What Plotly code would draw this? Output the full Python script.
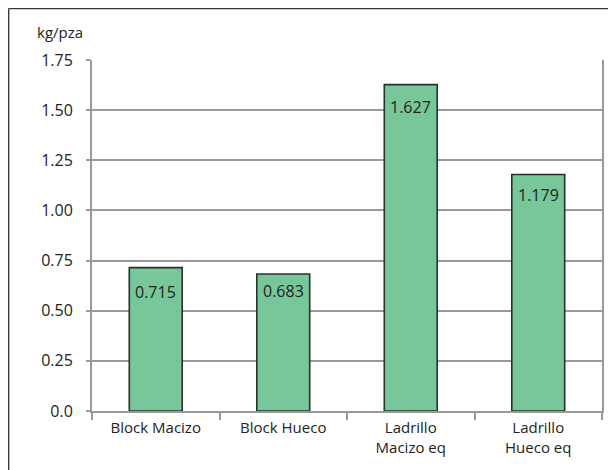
import plotly.graph_objects as go

# data
categories = ["Block Macizo", "Block Hueco", "Ladrillo Macizo eq", "Ladrillo Hueco eq"]
tick_labels = ["Block Macizo", "Block Hueco", "Ladrillo<br>Macizo eq", "Ladrillo<br>Hueco eq"]
values = [0.715, 0.683, 1.627, 1.179]
value_labels = ["0.715", "0.683", "1.627", "1.179"]
y_ticks = [0, 0.25, 0.5, 0.75, 1.0, 1.25, 1.5, 1.75]
y_tick_text = ["0.0", "0.25", "0.50", "0.75", "1.00", "1.25", "1.50", "1.75"]

# the labels in the original were nudged by hand, not all at the same depth
label_drop = [-11, -4, -9, -7]

FONT = "Open Sans"
TEXT = "#232323"
GRID = "#999999"

# page body has an 8px margin, so the figure is sized to the visible part
W, H = 608, 462
ML, MR, MT, MB = 84, 14, 52, 59
PW, PH = W - ML - MR, H - MT - MB

fig = go.Figure()

fig.add_trace(
    go.Bar(
        x=categories,
        y=values,
        marker=dict(color="#77c79a", line=dict(color="#26332b", width=1.6)),
        width=0.415,
        hoverinfo="skip",
        showlegend=False,
    )
)

for cat, val, lab, dy in zip(categories, values, value_labels, label_drop):
    fig.add_annotation(
        x=cat, y=val, text=lab, showarrow=False,
        yanchor="top", yshift=dy,
        font=dict(family=FONT, size=16, color=TEXT),
    )

# unit label above the y axis
fig.add_annotation(
    xref="paper", yref="paper",
    x=(27 - ML) / PW, y=1 + (MT - 23.5) / PH,
    xanchor="left", yanchor="middle",
    text="kg/pza", showarrow=False,
    font=dict(family=FONT, size=15, color=TEXT),
)

# frame of the original figure box (top and left edges)
fig.add_shape(type="line", xref="paper", yref="paper",
              x0=(0.6 - ML) / PW, x1=1.2, y0=1 + (MT - 0.6) / PH, y1=1 + (MT - 0.6) / PH,
              line=dict(color="#3a3a3a", width=1.5))
fig.add_shape(type="line", xref="paper", yref="paper",
              x0=(0.6 - ML) / PW, x1=(0.6 - ML) / PW, y0=-0.3, y1=1 + (MT - 0.6) / PH,
              line=dict(color="#3a3a3a", width=1.5))

fig.update_xaxes(
    tickvals=categories,
    ticktext=tick_labels,
    tickson="boundaries",
    ticks="outside",
    ticklen=7,
    tickwidth=2,
    tickcolor=GRID,
    ticklabelstandoff=2,
    showline=True,
    linecolor=GRID,
    linewidth=2,
    tickfont=dict(family=FONT, size=15, color=TEXT),
    showgrid=False,
)

fig.update_yaxes(
    range=[0, 1.75],
    tickvals=y_ticks,
    ticktext=y_tick_text,
    ticks="outside",
    ticklen=4,
    tickwidth=2,
    tickcolor=GRID,
    ticklabelstandoff=10,
    showline=True,
    linecolor=GRID,
    linewidth=2,
    mirror=True,
    showgrid=True,
    gridcolor=GRID,
    gridwidth=1.5,
    zeroline=False,
    tickfont=dict(family=FONT, size=16, color=TEXT),
)

fig.update_layout(
    width=W,
    height=H,
    margin=dict(l=ML, r=MR, t=MT, b=MB),
    paper_bgcolor="white",
    plot_bgcolor="white",
)

fig.write_html("out.html")
